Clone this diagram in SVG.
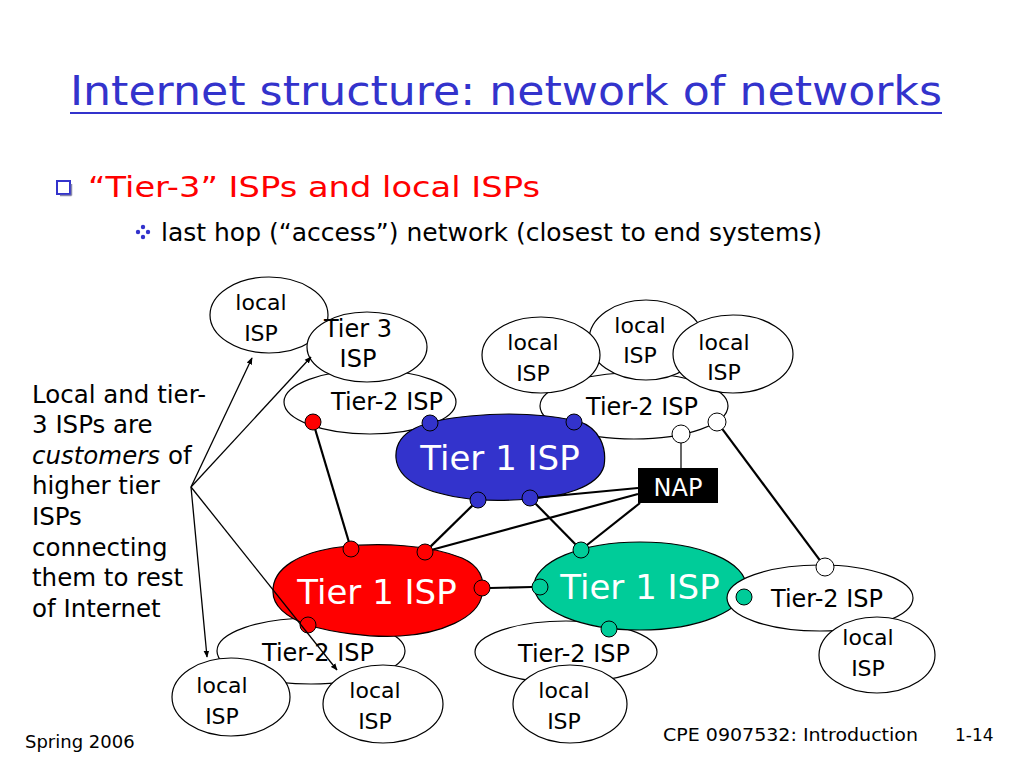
<svg xmlns="http://www.w3.org/2000/svg" width="1024" height="768" viewBox="0 0 1024 768">
<defs>
<marker id="ah" viewBox="0 0 10 10" refX="9" refY="5" markerWidth="7" markerHeight="7" orient="auto" markerUnits="userSpaceOnUse">
<path d="M0,1 L10,5 L0,9 z" fill="#000"/>
</marker>
</defs>
<style>
text{font-family:"DejaVu Sans","Liberation Sans",sans-serif;}
.e{fill:#fff;stroke:#000;stroke-width:1.2;}
.lbl{font-size:22px;fill:#000;text-anchor:middle;}
.t2{font-size:24px;fill:#000;text-anchor:middle;}
.big{font-size:34px;fill:#fff;text-anchor:middle;}
.bd{fill:#3333CC;stroke:#000;stroke-width:1;}
.rd{fill:#FF0000;stroke:#000;stroke-width:1;}
.gd{fill:#00CC99;stroke:#000;stroke-width:1;}
.wd{fill:#fff;stroke:#000;stroke-width:1;}
.ln{stroke:#000;stroke-width:2.2;fill:none;}
.ar{stroke:#000;stroke-width:1.3;fill:none;marker-end:url(#ah);}
.side{font-size:24.5px;fill:#000;}
.foot{font-size:18px;fill:#000;}
</style>
<rect width="1024" height="768" fill="#fff"/>

<g id="title">
<text x="506" y="105" font-size="40" fill="#3333CC" text-anchor="middle" textLength="872" lengthAdjust="spacingAndGlyphs">Internet structure: network of networks</text>
<line x1="70" y1="113" x2="942" y2="113" stroke="#3333CC" stroke-width="2.2"/>
</g>

<g id="bullets">
<rect x="57" y="181" width="13" height="13" fill="#fff" stroke="#3333CC" stroke-width="2"/>
<line x1="60" y1="195.5" x2="71.5" y2="195.5" stroke="#8888aa" stroke-width="1.5"/>
<line x1="71.5" y1="184" x2="71.5" y2="195.5" stroke="#8888aa" stroke-width="1.5"/>
<text x="88" y="197" font-size="29" fill="#FF0000" textLength="452" lengthAdjust="spacingAndGlyphs">“Tier-3” ISPs and local ISPs</text>
<g fill="#3333CC">
<circle cx="143" cy="227" r="2.2"/><circle cx="143" cy="237" r="2.2"/><circle cx="138" cy="232" r="2.2"/><circle cx="148" cy="232" r="2.2"/>
</g>
<text x="161" y="241" font-size="25" fill="#000" textLength="661" lengthAdjust="spacingAndGlyphs">last hop (“access”) network (closest to end systems)</text>
</g>

<g id="note">
<text class="side" x="32" y="403">Local and tier-</text>
<text class="side" x="32" y="433">3 ISPs are</text>
<text class="side" x="32" y="464"><tspan font-style="italic">customers</tspan> of</text>
<text class="side" x="32" y="494">higher tier</text>
<text class="side" x="32" y="525">ISPs</text>
<text class="side" x="32" y="556">connecting</text>
<text class="side" x="32" y="586">them to rest</text>
<text class="side" x="32" y="617">of Internet</text>
</g>

<g id="tier2-left">
<ellipse class="e" cx="370" cy="402" rx="86" ry="32"/>
<text class="t2" x="387" y="410">Tier-2 ISP</text>
<circle class="rd" cx="313" cy="422" r="8"/>
</g>
<g id="tier2-topright">
<ellipse class="e" cx="634" cy="406" rx="94" ry="33"/>
<text class="t2" x="642" y="415">Tier-2 ISP</text>
<circle class="wd" cx="681" cy="434" r="9"/>
<circle class="wd" cx="717" cy="422" r="9"/>
</g>
<g id="tier2-botleft">
<ellipse class="e" cx="311" cy="651" rx="94" ry="33"/>
<text class="t2" x="318" y="661">Tier-2 ISP</text>
</g>
<g id="tier2-botmid">
<ellipse class="e" cx="566" cy="652" rx="91" ry="31"/>
<text class="t2" x="574" y="662">Tier-2 ISP</text>
</g>

<g id="local-topleft">
<ellipse class="e" cx="269" cy="315" rx="59" ry="38"/>
<text class="lbl" x="261" y="310">local</text>
<text class="lbl" x="261" y="341">ISP</text>
</g>
<g id="tier3">
<ellipse class="e" cx="367" cy="347" rx="60" ry="35"/>
<text class="t2" x="358" y="337">Tier 3</text>
<text class="t2" x="358" y="367">ISP</text>
</g>
<g id="local-topmid">
<ellipse class="e" cx="646" cy="340" rx="57" ry="40"/>
<text class="lbl" x="640" y="333">local</text>
<text class="lbl" x="640" y="363">ISP</text>
</g>
<g id="local-topleft2">
<ellipse class="e" cx="541" cy="355" rx="59" ry="38"/>
<text class="lbl" x="533" y="350">local</text>
<text class="lbl" x="533" y="381">ISP</text>
</g>
<g id="local-topright">
<ellipse class="e" cx="733" cy="354" rx="60" ry="39"/>
<text class="lbl" x="724" y="350">local</text>
<text class="lbl" x="724" y="380">ISP</text>
</g>

<g id="tier1-blue">
<path d="M396,458 C394,430 425,420 470,416 C510,412 545,414 578,421 C600,428 607,448 604,466 C598,488 560,497 530,499 C505,501 488,501 470,499 C430,494 398,482 396,458 Z" fill="#3333CC" stroke="#000" stroke-width="1.2"/>
<text class="big" x="500" y="470">Tier 1 ISP</text>
<circle class="bd" cx="430" cy="423" r="8"/>
<circle class="bd" cx="574" cy="422" r="8"/>
<circle class="bd" cx="478" cy="500" r="8"/>
<circle class="bd" cx="530" cy="498" r="8"/>
</g>

<g id="tier1-red">
<path d="M273,592 C272,568 300,552 340,547 C380,542 430,545 462,558 C480,566 485,580 482,595 C478,618 440,634 400,636 C370,638 330,632 308,625 C285,617 273,605 273,592 Z" fill="#FF0000" stroke="#000" stroke-width="1.2"/>
<text class="big" x="377" y="604">Tier 1 ISP</text>
<circle class="rd" cx="351" cy="549" r="8"/>
<circle class="rd" cx="425" cy="552" r="8"/>
<circle class="rd" cx="482" cy="588" r="8"/>
<circle class="rd" cx="308" cy="625" r="8"/>
</g>

<g id="tier1-green">
<ellipse cx="640" cy="586" rx="106" ry="44" fill="#00CC99" stroke="#000" stroke-width="1.2"/>
<text class="big" x="640" y="599">Tier 1 ISP</text>
<circle class="gd" cx="581" cy="550" r="8"/>
<circle class="gd" cx="540" cy="587" r="8"/>
<circle class="gd" cx="609" cy="629" r="8"/>
</g>

<g id="tier2-right">
<ellipse class="e" cx="820" cy="598" rx="93" ry="33"/>
<text class="t2" x="827" y="607">Tier-2 ISP</text>
<circle class="gd" cx="744" cy="597" r="8"/>
<circle class="wd" cx="825" cy="567" r="9"/>
</g>
<g id="local-right">
<ellipse class="e" cx="877" cy="655" rx="58" ry="38"/>
<text class="lbl" x="868" y="645">local</text>
<text class="lbl" x="868" y="676">ISP</text>
</g>
<g id="local-botmid">
<ellipse class="e" cx="570" cy="704" rx="57" ry="39"/>
<text class="lbl" x="564" y="698">local</text>
<text class="lbl" x="564" y="729">ISP</text>
</g>
<g id="local-botleft">
<ellipse class="e" cx="231" cy="697" rx="59" ry="39"/>
<text class="lbl" x="222" y="693">local</text>
<text class="lbl" x="222" y="724">ISP</text>
</g>
<g id="local-botleft2">
<ellipse class="e" cx="383" cy="704" rx="60" ry="39"/>
<text class="lbl" x="375" y="698">local</text>
<text class="lbl" x="375" y="729">ISP</text>
</g>

<g id="nap">
<rect x="638" y="468" width="80" height="35" fill="#000"/>
<text x="678" y="496" font-size="24" fill="#fff" text-anchor="middle">NAP</text>
</g>

<g id="connectors">
<line class="ln" x1="315.3" y1="429.7" x2="348.7" y2="541.3"/>
<line class="ln" x1="472.3" y1="505.6" x2="430.7" y2="546.4"/>
<line class="ln" x1="535.6" y1="503.7" x2="575.4" y2="544.3"/>
<line class="ln" x1="638" y1="488" x2="538" y2="497.5"/>
<line class="ln" x1="638" y1="494" x2="433" y2="549.5"/>
<line class="ln" x1="640" y1="503" x2="587" y2="545"/>
<line class="ln" x1="490" y1="588" x2="532" y2="587"/>
<line class="ln" x1="722.4" y1="429.2" x2="819.6" y2="559.8"/>
<line x1="681" y1="443" x2="681" y2="468" stroke="#000" stroke-width="1.2"/>
<line class="ar" x1="191" y1="487" x2="252" y2="358"/>
<line class="ar" x1="191" y1="487" x2="311" y2="357"/>
<line class="ar" x1="191" y1="487" x2="207" y2="657"/>
<line class="ar" x1="191" y1="487" x2="337" y2="670"/>
</g>

<g id="footer">
<text class="foot" x="25" y="748">Spring 2006</text>
<text class="foot" x="663" y="741" textLength="255" lengthAdjust="spacingAndGlyphs">CPE 0907532: Introduction</text>
<text x="955" y="741" font-size="17" font-family="Liberation Serif, serif" fill="#000">1-14</text>
</g>
</svg>
